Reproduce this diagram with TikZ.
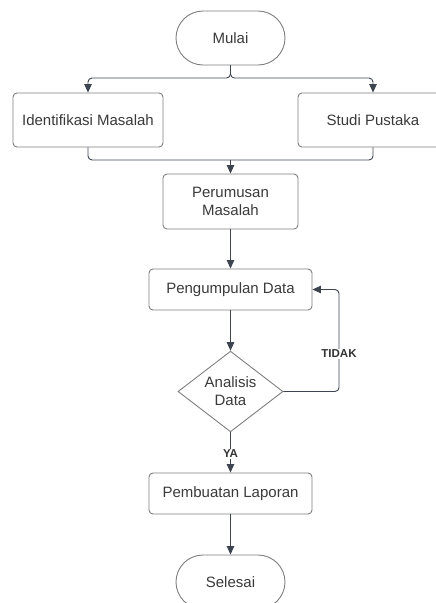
\documentclass[tikz,border=0pt]{standalone}
\usepackage{fontspec}
\setmainfont{Liberation Sans}
\usetikzlibrary{shapes.geometric,arrows.meta,calc}
\definecolor{linec}{HTML}{3D4450}
\definecolor{boxc}{HTML}{7F7F7F}
\definecolor{textc}{HTML}{3A3A3A}
\begin{document}
\begin{tikzpicture}[x=1pt,y=-1pt,
  every node/.style={text=textc, font=\fontsize{15}{18}\selectfont},
  box/.style={draw=boxc, line width=0.9pt, rounded corners=4pt, align=center, inner sep=0pt},
  term/.style={draw=boxc, line width=0.9pt, rounded corners=27pt, minimum width=109pt, minimum height=54pt, inner sep=0pt},
  decide/.style={draw=boxc, line width=0.9pt, diamond, minimum width=105pt, minimum height=79pt, inner sep=0pt, align=center},
  conn/.style={draw=linec, line width=0.9pt},
  arr/.style={conn, -{Triangle[width=7.5pt,length=8.5pt]}},
  lbl/.style={font=\fontsize{11.5}{13}\bfseries, text=textc!90!black, fill=white, inner sep=1pt}]
\clip (0,0) rectangle (436,603);
\fill[white] (0,0) rectangle (436,603);
\node[term] (mulai) at (230.5,38) {Mulai};
\node[box, minimum width=150pt, minimum height=54pt] (ident) at (88,120) {Identifikasi Masalah};
\node[box, minimum width=150pt, minimum height=54pt] (studi) at (373,120) {Studi Pustaka};
\node[box, minimum width=135pt, minimum height=55pt] (perum) at (230.5,201.5) {Perumusan\\Masalah};
\node[box, minimum width=163pt, minimum height=41pt] (peng) at (230.5,289.5) {Pengumpulan Data};
\node[decide] (anal) at (230.5,391.5) {Analisis\\Data};
\node[box, minimum width=163pt, minimum height=41pt] (pemb) at (230.5,493.5) {Pembuatan Laporan};
\node[term] (sel) at (230.5,582) {Selesai};
\coordinate (j1) at (230.5,78);
\coordinate (j2) at (230.5,160);
\coordinate (lp) at (339,391.5);
\draw[arr, rounded corners=4pt] (mulai.south) -- (j1) -| (ident.north);
\draw[arr, rounded corners=4pt] (mulai.south) -- (j1) -| (studi.north);
\draw[conn, rounded corners=4pt] (ident.south) |- (j2);
\draw[conn, rounded corners=4pt] (studi.south) |- (j2);
\draw[arr] (j2) -- (perum.north);
\draw[arr] (perum.south) -- (peng.north);
\draw[arr] (peng.south) -- (anal.north);
\draw[arr, rounded corners=4pt] (anal.east) -- (lp) |- (peng.east);
\node[lbl] (tidak) at (339,354) {TIDAK};
\draw[arr] (anal.south) -- (pemb.north);
\node[lbl] (ya) at (230.5,453.7) {YA};
\draw[arr] (pemb.south) -- (sel.north);
\end{tikzpicture}
\end{document}
